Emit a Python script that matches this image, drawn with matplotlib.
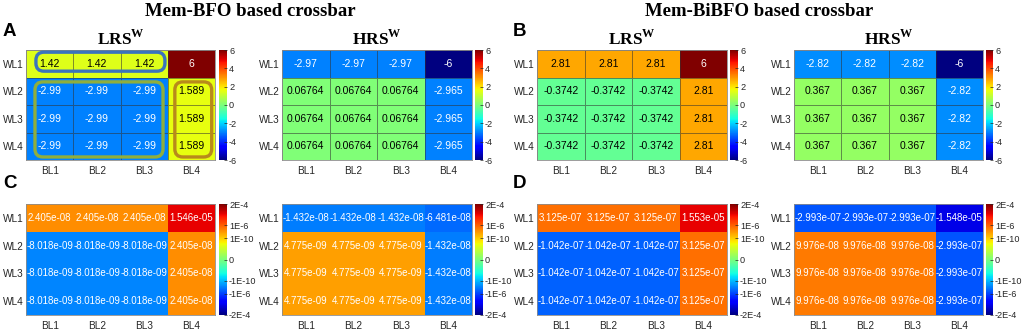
import numpy as np
import matplotlib
matplotlib.use("Agg")
import matplotlib.pyplot as plt
from matplotlib.colors import Normalize, FuncNorm
from matplotlib.patches import FancyBboxPatch

plt.rcParams['font.family'] = ['Liberation Sans', 'DejaVu Sans']
plt.rcParams['mathtext.fontset'] = 'custom'
plt.rcParams['mathtext.rm'] = 'Liberation Serif'
plt.rcParams['mathtext.bf'] = 'Liberation Serif:bold'

# ---------------- data ----------------
rows = ['WL1', 'WL2', 'WL3', 'WL4']
cols = ['BL1', 'BL2', 'BL3', 'BL4']

bfo_lrs = [[1.42, 1.42, 1.42, 6],
           [-2.99, -2.99, -2.99, 1.589],
           [-2.99, -2.99, -2.99, 1.589],
           [-2.99, -2.99, -2.99, 1.589]]
bfo_hrs = [[-2.97, -2.97, -2.97, -6],
           [0.06764, 0.06764, 0.06764, -2.965],
           [0.06764, 0.06764, 0.06764, -2.965],
           [0.06764, 0.06764, 0.06764, -2.965]]
bibfo_lrs = [[2.81, 2.81, 2.81, 6],
             [-0.3742, -0.3742, -0.3742, 2.81],
             [-0.3742, -0.3742, -0.3742, 2.81],
             [-0.3742, -0.3742, -0.3742, 2.81]]
bibfo_hrs = [[-2.82, -2.82, -2.82, -6],
             [0.367, 0.367, 0.367, -2.82],
             [0.367, 0.367, 0.367, -2.82],
             [0.367, 0.367, 0.367, -2.82]]

bfo_lrs_i = [[2.405e-08, 2.405e-08, 2.405e-08, 1.546e-05],
             [-8.018e-09, -8.018e-09, -8.018e-09, 2.405e-08],
             [-8.018e-09, -8.018e-09, -8.018e-09, 2.405e-08],
             [-8.018e-09, -8.018e-09, -8.018e-09, 2.405e-08]]
bfo_hrs_i = [[-1.432e-08, -1.432e-08, -1.432e-08, -6.481e-08],
             [4.775e-09, 4.775e-09, 4.775e-09, -1.432e-08],
             [4.775e-09, 4.775e-09, 4.775e-09, -1.432e-08],
             [4.775e-09, 4.775e-09, 4.775e-09, -1.432e-08]]
bibfo_lrs_i = [[3.125e-07, 3.125e-07, 3.125e-07, 1.553e-05],
               [-1.042e-07, -1.042e-07, -1.042e-07, 3.125e-07],
               [-1.042e-07, -1.042e-07, -1.042e-07, 3.125e-07],
               [-1.042e-07, -1.042e-07, -1.042e-07, 3.125e-07]]
bibfo_hrs_i = [[-2.993e-07, -2.993e-07, -2.993e-07, -1.548e-05],
               [9.976e-08, 9.976e-08, 9.976e-08, -2.993e-07],
               [9.976e-08, 9.976e-08, 9.976e-08, -2.993e-07],
               [9.976e-08, 9.976e-08, 9.976e-08, -2.993e-07]]

top_ticks = [6, 4, 2, 0, -2, -4, -6]
bot_ticks = [2e-4, 1e-6, 1e-10, 0, -1e-10, -1e-6, -2e-4]
bot_ticklabels = ['2E-4', '1E-6', '1E-10', '0', '-1E-10', '-1E-6', '-2E-4']

# ---------------- norms ----------------
LOGPTS = [-14.0, -10.0, -6.0, np.log10(2e-4)]
FRAC = [0.0, 0.38, 0.615, 1.0]


def fwd(x):
    x = np.asarray(x, dtype=float)
    with np.errstate(divide='ignore'):
        lg = np.log10(np.abs(x))
    return np.sign(x) * np.interp(lg, LOGPTS, FRAC)


def inv(y):
    y = np.asarray(y, dtype=float)
    ay = np.abs(y)
    return np.sign(y) * np.where(ay > 0, 10 ** np.interp(ay, FRAC, LOGPTS), 0.0)


W, H = 1024, 332
fig = plt.figure(figsize=(W / 100, H / 100), dpi=100)


def fbox(x0, y0, x1, y1):
    return [x0 / W, 1 - y1 / H, (x1 - x0) / W, (y1 - y0) / H]


heat_x = [(26, 215), (282, 472), (537, 727), (794, 983)]
cbar_x = [(219, 227), (475, 483), (730, 738), (986, 993)]
row_y = [(50, 160), (204, 315)]

top_data = [bfo_lrs, bfo_hrs, bibfo_lrs, bibfo_hrs]
bot_data = [bfo_lrs_i, bfo_hrs_i, bibfo_lrs_i, bibfo_hrs_i]
titles = [r'$\mathbf{LRS}^{\mathbf{W}}$', r'$\mathbf{HRS}^{\mathbf{W}}$',
          r'$\mathbf{LRS}^{\mathbf{W}}$', r'$\mathbf{HRS}^{\mathbf{W}}$']

tick_color = '#262626'
axes_A = None


def draw(ax, cax, data, norm, fmt, textcolor_fn, grid, ticks, ticklabels, fs):
    arr = np.array(data, dtype=float)
    ec = (0.2, 0.2, 0.2, 0.55) if grid else 'face'
    mesh = ax.pcolormesh(np.arange(5), np.arange(5), arr, cmap='jet', norm=norm,
                         edgecolors=ec, linewidth=0.6 if grid else 0)
    ax.set_xlim(0, 4)
    ax.set_ylim(4, 0)
    ax.set_xticks(np.arange(4) + 0.5)
    ax.set_xticklabels(cols)
    ax.set_yticks(np.arange(4) + 0.5)
    ax.set_yticklabels(rows)
    ax.tick_params(length=0, labelsize=7.2, colors=tick_color)
    ax.tick_params(axis='x', pad=4)
    ax.tick_params(axis='y', pad=2)
    for s in ax.spines.values():
        s.set_color('#8c8c8c')
        s.set_linewidth(0.6)
    for i in range(4):
        for j in range(4):
            v = arr[i, j]
            ax.text(j + 0.5, i + 0.5, fmt(v), ha='center', va='center',
                    fontsize=fs, color=textcolor_fn(v))
    cb = fig.colorbar(mesh, cax=cax, ticks=ticks)
    cb.set_ticklabels(ticklabels)
    cb.outline.set_visible(False)
    cax.tick_params(length=2, width=0.5, labelsize=6.6, colors=tick_color, pad=1.5,
                    direction='in')
    return mesh


for k in range(4):
    # top row
    ax = fig.add_axes(fbox(heat_x[k][0], row_y[0][0], heat_x[k][1], row_y[0][1]))
    cax = fig.add_axes(fbox(cbar_x[k][0], row_y[0][0], cbar_x[k][1], row_y[0][1]))
    draw(ax, cax, top_data[k], Normalize(-6, 6), lambda v: '{:.4g}'.format(v),
         lambda v: 'white' if (v <= -2.5 or v >= 5) else 'black', True,
         top_ticks, [str(t) for t in top_ticks], 7.5)
    ax.set_title(titles[k], fontsize=12.5, pad=4)
    if k == 0:
        axes_A = ax
    # bottom row
    ax2 = fig.add_axes(fbox(heat_x[k][0], row_y[1][0], heat_x[k][1], row_y[1][1]))
    cax2 = fig.add_axes(fbox(cbar_x[k][0], row_y[1][0], cbar_x[k][1], row_y[1][1]))
    draw(ax2, cax2, bot_data[k], FuncNorm((fwd, inv), vmin=-2e-4, vmax=2e-4),
         lambda v: '{:.3e}'.format(v), lambda v: 'white', False,
         bot_ticks, bot_ticklabels, 7.0)

# highlight boxes in panel A
asp = (189 / 4) / (110 / 4)
for (x0, y0, x1, y1, c) in [(0.21, 0.08, 2.94, 0.77, '#3a74bd'),
                            (0.19, 1.16, 2.90, 3.89, '#8fae3e'),
                            (3.15, 1.16, 3.93, 3.89, '#b88a1b')]:
    p = FancyBboxPatch((x0, y0), x1 - x0, y1 - y0,
                       boxstyle='round,pad=0,rounding_size=0.17',
                       mutation_aspect=asp, fill=False, edgecolor=c,
                       linewidth=2.4, zorder=5, clip_on=False)
    axes_A.add_patch(p)

# headers
fig.text(250 / W, 1 - 12 / H, 'Mem-BFO based crossbar', ha='center', va='center',
         fontsize=13.5, fontweight='bold', family='Liberation Serif')
fig.text(759 / W, 1 - 12 / H, 'Mem-BiBFO based crossbar', ha='center', va='center',
         fontsize=13.5, fontweight='bold', family='Liberation Serif')
for lab, x, y in [('A', 3, 31), ('B', 513, 31), ('C', 3, 184), ('D', 513, 184)]:
    fig.text(x / W, 1 - y / H, lab, ha='left', va='center', fontsize=13.5,
             fontweight='bold', color='black')

fig.savefig('out.png', dpi=100)
